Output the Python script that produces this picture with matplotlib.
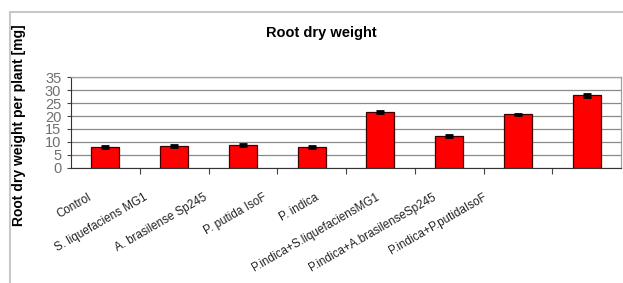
import matplotlib
matplotlib.use("Agg")
import matplotlib.pyplot as plt
from matplotlib.transforms import ScaledTranslation
from matplotlib.patches import Rectangle

categories = ["Control", "S. liquefaciens MG1", "A. brasilense Sp245", "P. putida IsoF",
              "P. indica", "P.indica+S.liquefaciensMG1", "P.indica+A.brasilenseSp245",
              "P.indica+P.putidaIsoF"]
values = [7.9, 8.3, 8.8, 7.9, 21.5, 12.3, 20.7, 28.1]
errors = [0.5, 0.5, 0.3, 0.3, 0.5, 0.3, 0.2, 0.6]
yticks = [0, 5, 10, 15, 20, 25, 30, 35]
# horizontal shift (px) of each x label end relative to its category centre
label_shift_px = [-18, -31, -40, -49, -65, -74, -86, -104]

W, H = 623, 283
fig = plt.figure(figsize=(W / 100, H / 100), dpi=100)
fig.patch.set_facecolor("white")

# chart area border
fig.patches.append(Rectangle((10 / W, -0.1), 1.2, 1 - 12 / H + 0.1, transform=fig.transFigure,
                             fill=False, edgecolor="#c8c8c8", linewidth=1.5))

ax = fig.add_axes([71 / W, 1 - 167.5 / H, (621 - 71) / W, (167.5 - 77.5) / H])
x = list(range(len(categories)))
ax.bar(x, values, width=0.41, color="#ff0000", edgecolor="#400000", linewidth=0.9, zorder=3)
ax.errorbar(x, values, yerr=errors, fmt="none", ecolor="black", elinewidth=1.2,
            capsize=3, capthick=2, zorder=4)

ax.set_xlim(-0.5, len(categories) - 0.5)
ax.set_ylim(0, 35)
ax.set_yticks(yticks)
ax.set_yticklabels([str(t) for t in yticks], family=["Liberation Sans Narrow", "Liberation Sans"],
                   fontsize=10.5, color="#707070")
ax.tick_params(axis="y", length=3, pad=4, color="#444444")
ax.grid(axis="y", color="#8a8a8a", linewidth=0.9, zorder=0)
ax.set_axisbelow(True)

ax.set_xticks([i + 0.5 for i in x[:-1]], minor=False)
ax.set_xticklabels([])
ax.tick_params(axis="x", which="major", length=4, color="#444444")
ax.set_xticks(x, minor=True)
ax.set_xticklabels(categories, minor=True, rotation=30, ha="right", va="top",
                   rotation_mode="anchor", fontsize=8.4, family="Liberation Sans", color="#222222")
ax.tick_params(axis="x", which="minor", length=0, pad=17)
for lab, dx in zip(ax.get_xticklabels(minor=True), label_shift_px):
    lab.set_transform(lab.get_transform() + ScaledTranslation(dx / 100, 0, fig.dpi_scale_trans))

for s in ["top", "right"]:
    ax.spines[s].set_color("#a0a0a0")
    ax.spines[s].set_linewidth(0.9)
ax.spines["left"].set_color("#333333")
ax.spines["bottom"].set_color("#333333")

fig.text(321 / W, 1 - 33 / H, "Root dry weight", ha="center", va="center",
         fontsize=10.5, fontweight="bold", family="Liberation Sans")
fig.text(19 / W, 1 - 125 / H, "Root dry weight per plant [mg]", ha="center", va="center",
         rotation=90, fontsize=10, fontweight="bold", family="Liberation Sans")

fig.savefig("out.png", dpi=100, facecolor="white")
